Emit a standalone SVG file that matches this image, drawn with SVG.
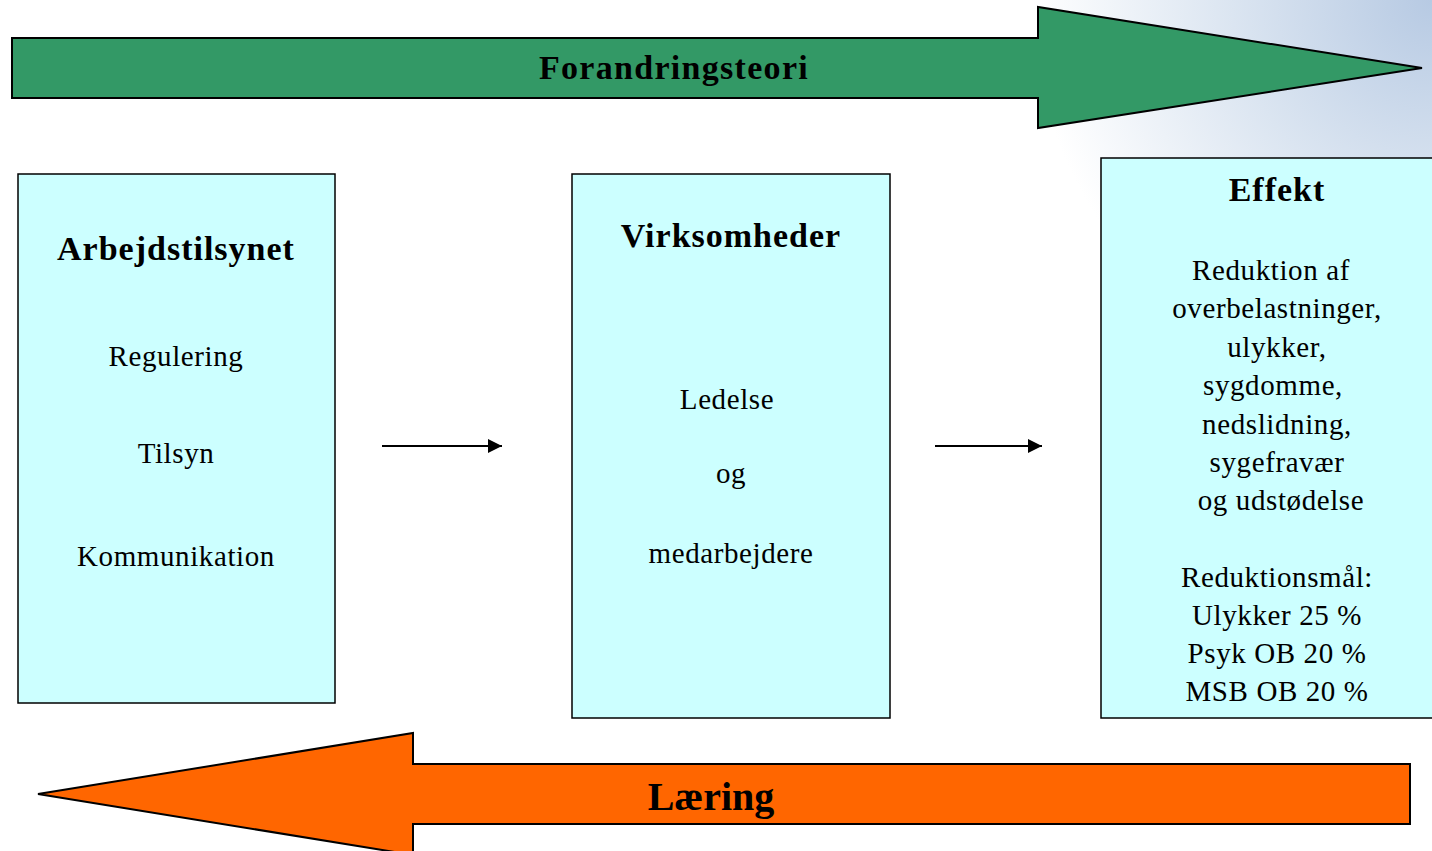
<svg xmlns="http://www.w3.org/2000/svg" width="1432" height="851" viewBox="0 0 1432 851">
<defs>
<radialGradient id="bg" cx="1432" cy="0" r="400" gradientUnits="userSpaceOnUse">
<stop offset="0" stop-color="#b7cae3"/>
<stop offset="0.5" stop-color="#dbe5f1"/>
<stop offset="1" stop-color="#ffffff"/>
</radialGradient>
<marker id="ah" viewBox="0 0 14 14" refX="14" refY="7" markerWidth="14" markerHeight="14" markerUnits="userSpaceOnUse" orient="auto">
<path d="M0,0 L14,7 L0,14 Z" fill="#000"/>
</marker>
</defs>
<style>
.box{fill:#ccffff;stroke:#000;stroke-width:1.5}
.t{font-family:"Liberation Serif","Times New Roman",serif;fill:#000;text-anchor:middle}
.h{font-weight:bold;font-size:34px;letter-spacing:1px}
.b{font-size:29px;letter-spacing:0.6px}
.conn{stroke:#000;stroke-width:2;fill:none}
</style>
<rect width="1432" height="851" fill="#fff"/>
<rect x="1000" y="0" width="432" height="420" fill="url(#bg)"/>
<g id="forandringsteori">
<polygon points="12,38 1038,38 1038,7 1422,68 1038,128 1038,98 12,98" fill="#339966" stroke="#000" stroke-width="2"/>
<text class="t h" x="674" y="79" style="letter-spacing:1.3px">Forandringsteori</text>
</g>
<g id="laering">
<polygon points="1410,764 413,764 413,733 38,794 413,855 413,824 1410,824" fill="#ff6600" stroke="#000" stroke-width="2"/>
<text class="t" x="711" y="810" font-weight="bold" font-size="40">Læring</text>
</g>
<g id="arbejdstilsynet">
<rect class="box" x="18" y="174" width="317" height="529"/>
<text class="t h" x="176" y="260">Arbejdstilsynet</text>
<text class="t b" x="176" y="366">Regulering</text>
<text class="t b" x="176" y="463">Tilsyn</text>
<text class="t b" x="176" y="566">Kommunikation</text>
</g>
<g id="virksomheder">
<rect class="box" x="572" y="174" width="318" height="544"/>
<text class="t h" x="731" y="247">Virksomheder</text>
<text class="t b" x="727" y="409">Ledelse</text>
<text class="t b" x="731" y="483">og</text>
<text class="t b" x="731" y="563">medarbejdere</text>
</g>
<g id="effekt">
<rect class="box" x="1101" y="158" width="340" height="560"/>
<text class="t h" x="1277" y="201">Effekt</text>
<text class="t b" x="1271" y="280">Reduktion af</text>
<text class="t b" x="1277" y="318">overbelastninger,</text>
<text class="t b" x="1277" y="357">ulykker,</text>
<text class="t b" x="1273" y="395">sygdomme,</text>
<text class="t b" x="1277" y="434">nedslidning,</text>
<text class="t b" x="1277" y="472">sygefravær</text>
<text class="t b" x="1281" y="510">og udstødelse</text>
<text class="t b" x="1277" y="587">Reduktionsmål:</text>
<text class="t b" x="1277" y="625">Ulykker 25 %</text>
<text class="t b" x="1277" y="663">Psyk OB 20 %</text>
<text class="t b" x="1277" y="701">MSB OB 20 %</text>
</g>
<g id="connectors">
<line class="conn" x1="382" y1="446" x2="502" y2="446" marker-end="url(#ah)"/>
<line class="conn" x1="935" y1="446" x2="1042" y2="446" marker-end="url(#ah)"/>
</g>
</svg>
